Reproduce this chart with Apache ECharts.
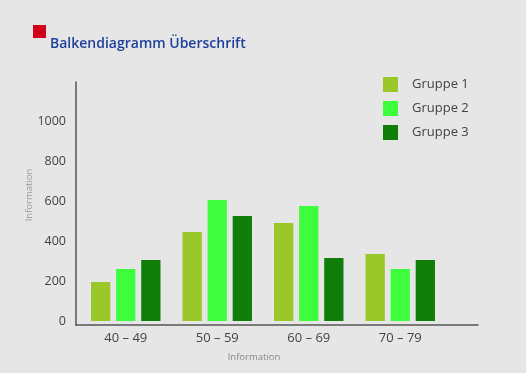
<!DOCTYPE html>
<html>
<head>
<meta charset="utf-8">
<script src="https://cdn.jsdelivr.net/npm/echarts@6/dist/echarts.min.js"></script>
<style>html,body{margin:0;padding:0;background:#e6e6e6;}#c{width:526px;height:373px;}</style>
</head>
<body>
<div id="c"></div>
<script>
var categories = ['40 – 49', '50 – 59', '60 – 69', '70 – 79'];
var seriesNames = ['Gruppe 1', 'Gruppe 2', 'Gruppe 3'];
var gruppe1 = [195, 445, 490, 335];
var gruppe2 = [260, 605, 575, 260];
var gruppe3 = [305, 525, 315, 305];
var yTicks = [0, 200, 400, 600, 800, 1000];
var colors = ['#9ac82a', '#3dfd3c', '#117e0a'];

var font = '"Open Sans", sans-serif';
var chart = echarts.init(document.getElementById('c'), null, {renderer: 'canvas'});
var values = [gruppe1, gruppe2, gruppe3];
chart.setOption({
  backgroundColor: '#e6e6e6',
  animation: false,
  color: colors,
  title: {
    text: 'Balkendiagramm Überschrift',
    left: 45, top: 32,
    textStyle: {fontFamily: font, fontSize: 14, fontWeight: 600, color: '#1e3f9c'}
  },
  graphic: [{
    type: 'rect', left: 33, top: 25,
    shape: {width: 13, height: 13},
    style: {fill: '#d0021b'}
  }],
  legend: {
    orient: 'vertical', left: 378, top: 72,
    itemWidth: 15, itemHeight: 15, itemGap: 9,
    icon: 'rect',
    data: seriesNames,
    textStyle: {fontFamily: font, fontSize: 13, color: '#444', padding: [0, 0, 0, 9]}
  },
  grid: [
    {left: 80, width: 366, top: 81, bottom: 52},
    {left: 76, width: 402, top: 82, bottom: 48}
  ],
  xAxis: [{
    gridIndex: 0, type: 'category', data: categories,
    axisLine: {show: false}, axisTick: {show: false},
    axisLabel: {fontFamily: font, fontSize: 13, color: '#444', margin: 11},
    name: 'Information', nameLocation: 'middle', nameGap: 31, nameMoveOverlap: false,
    nameTextStyle: {fontFamily: font, fontSize: 9.5, color: '#888', padding: [0, 18, 0, 0]}
  }, {
    gridIndex: 1, type: 'value', min: 0, max: 1,
    axisLine: {show: true, onZero: false, lineStyle: {color: '#555', width: 1.5}},
    axisTick: {show: false}, axisLabel: {show: false}, splitLine: {show: false}
  }],
  yAxis: [{
    gridIndex: 0, type: 'value', min: 0, max: 1200, interval: 200, offset: 4,
    axisLine: {show: false}, axisTick: {show: false}, splitLine: {show: false},
    axisLabel: {fontFamily: font, fontSize: 12.5, color: '#444', margin: 10,
      formatter: function (v) { return yTicks.indexOf(v) >= 0 ? String(v) : ''; }},
    name: 'Information', nameLocation: 'middle', nameGap: 42, nameMoveOverlap: false,
    nameTextStyle: {fontFamily: font, fontSize: 9.5, color: '#999', padding: [0, 0, 0, 12]}
  }, {
    gridIndex: 1, type: 'value', min: 0, max: 1,
    axisLine: {show: true, onZero: false, lineStyle: {color: '#555', width: 1.5}},
    axisTick: {show: false}, axisLabel: {show: false}, splitLine: {show: false}
  }],
  series: seriesNames.map(function (n, i) {
    return {
      name: n, type: 'bar', xAxisIndex: 0, yAxisIndex: 0,
      data: values[i], barWidth: 19.3, barGap: '30%',
      itemStyle: {color: colors[i]}
    };
  })
});
</script>
</body>
</html>
